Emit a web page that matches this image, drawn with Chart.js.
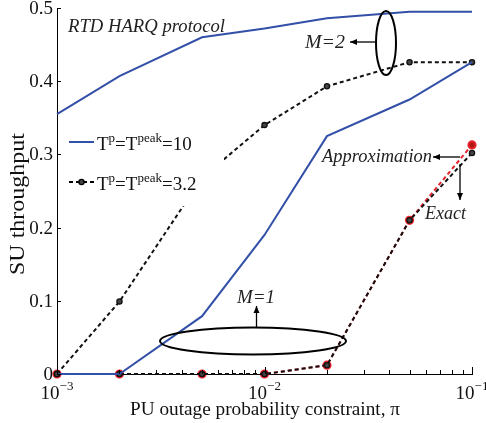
<!DOCTYPE html>
<html><head><meta charset="utf-8">
<script src="https://cdn.jsdelivr.net/npm/chart.js@4/dist/chart.umd.min.js"></script>
<style>html,body{margin:0;padding:0;background:#fff}#wrap{width:486px;height:423px}</style>
</head><body><div id="wrap"><canvas id="c" width="486" height="423"></canvas></div>
<script>
const outage = [0.001, 0.002, 0.005, 0.01, 0.02, 0.05, 0.1];
const m2_T10 = [0.355, 0.407, 0.46, 0.472, 0.486, 0.495, 0.495];
const m2_T32 = [0, 0.099, 0.268, 0.34, 0.393, 0.426, 0.426];
const m1_T10 = [0, 0, 0.079, 0.19, 0.325, 0.375, 0.426];
const m1_exact = [0, 0, 0, 0, 0.012, 0.21, 0.302];
const m1_approx = [0, 0, 0, 0, 0.012, 0.21, 0.313];
const yTicks = [0, 0.1, 0.2, 0.3, 0.4, 0.5];
const xTicks = [0.001, 0.01, 0.1];
const xTickExp = ['\u22123', '\u22122', '\u22121'];

const pts = arr => arr.map((v, i) => ({x: outage[i], y: v}));
const BLUE = '#3350a8', RED = '#e8232b';
const FONT = '"Liberation Serif", "DejaVu Serif", serif';

const deco = {
  id: 'deco',
  afterDatasetsDraw(chart) {
    const ctx = chart.ctx;
    // legend background box (hides part of the curve as in the original)
    ctx.save();
    ctx.fillStyle = '#fff';
    ctx.fillRect(59, 122, 165, 84);
    ctx.restore();
  },
  afterDraw(chart) {
    const ctx = chart.ctx, xs = chart.scales.x, ys = chart.scales.y, ca = chart.chartArea;
    const fit = (txt, x, y, width, size, italic, align) => {
      ctx.font = (italic ? 'italic ' : '') + size + 'px ' + FONT;
      const w = ctx.measureText(txt).width;
      const s = width / w;
      ctx.save();
      ctx.translate(x, y);
      ctx.scale(s, 1);
      ctx.textAlign = align || 'left';
      ctx.fillText(txt, 0, 0);
      ctx.restore();
    };
    ctx.save();
    ctx.strokeStyle = '#000'; ctx.lineWidth = 1;
    // y ticks (inward)
    ctx.fillStyle = '#111';
    ctx.font = '19px ' + FONT;
    ctx.textAlign = 'right'; ctx.textBaseline = 'middle';
    yTicks.forEach(v => {
      const y = Math.round(ys.getPixelForValue(v)) + 0.5;
      ctx.beginPath(); ctx.moveTo(ca.left, y); ctx.lineTo(ca.left + 4, y); ctx.stroke();
      ctx.fillText(String(v), ca.left - 4, y + 1);
    });
    // x ticks (inward), minor
    for (let e = -3; e <= -1; e++) {
      for (let m = 1; m <= 9; m++) {
        const v = m * Math.pow(10, e);
        if (v > 0.1 + 1e-12) break;
        const x = Math.round(xs.getPixelForValue(v)) + 0.5;
        const len = m === 1 ? 7 : 4;
        ctx.beginPath(); ctx.moveTo(x, ca.bottom); ctx.lineTo(x, ca.bottom - len); ctx.stroke();
      }
    }
    // x tick labels 10^k
    ctx.textBaseline = 'alphabetic';
    xTicks.forEach((v, i) => {
      const x = xs.getPixelForValue(v);
      ctx.font = '19px ' + FONT;
      const w1 = ctx.measureText('10').width;
      ctx.font = '13px ' + FONT;
      const w2 = ctx.measureText(xTickExp[i]).width;
      const x0 = x - (w1 + w2) / 2;
      ctx.textAlign = 'left';
      ctx.font = '19px ' + FONT;
      ctx.fillText('10', x0, ca.bottom + 25);
      ctx.font = '13px ' + FONT;
      ctx.fillText(xTickExp[i], x0 + w1, ca.bottom + 16);
    });
    // axis titles
    ctx.textBaseline = 'alphabetic';
    fit('PU outage probability constraint, \u03c0', 265, 415, 270, 19, false, 'center');
    ctx.save();
    ctx.translate(24, 204); ctx.rotate(-Math.PI / 2);
    fit('SU throughput', 0, 0, 142, 21, false, 'center');
    ctx.restore();

    // annotation texts
    ctx.fillStyle = '#222';
    ctx.textBaseline = 'middle';
    fit('RTD HARQ protocol', 68, 27, 157, 18, true);
    fit('M=2', 305, 43, 40, 18, true);
    fit('Approximation', 322, 157, 110, 18, true);
    fit('Exact', 425, 214, 41, 18, true);
    fit('M=1', 237, 298, 38, 18, true);

    // ellipses
    ctx.strokeStyle = '#000'; ctx.lineWidth = 2;
    ctx.beginPath(); ctx.ellipse(386, 43, 10, 32, 0, 0, Math.PI * 2); ctx.stroke();
    ctx.beginPath(); ctx.ellipse(253, 341, 93, 13.5, 0, 0, Math.PI * 2); ctx.stroke();

    // arrows
    const arrow = (x1, y1, x2, y2) => {
      ctx.lineWidth = 1.3;
      ctx.beginPath(); ctx.moveTo(x1, y1); ctx.lineTo(x2, y2); ctx.stroke();
      const a = Math.atan2(y2 - y1, x2 - x1), L = 7, W = 3;
      ctx.beginPath();
      ctx.moveTo(x2, y2);
      ctx.lineTo(x2 - L * Math.cos(a) + W * Math.sin(a), y2 - L * Math.sin(a) - W * Math.cos(a));
      ctx.lineTo(x2 - L * Math.cos(a) - W * Math.sin(a), y2 - L * Math.sin(a) + W * Math.cos(a));
      ctx.closePath(); ctx.fillStyle = '#000'; ctx.fill();
    };
    arrow(376, 42, 350, 42);
    arrow(460, 157, 433, 157);
    arrow(460, 164, 460, 200);
    arrow(256.5, 328, 256.5, 306);

    // legend
    ctx.lineWidth = 2;
    ctx.strokeStyle = BLUE;
    ctx.beginPath(); ctx.moveTo(69, 142); ctx.lineTo(94, 142); ctx.stroke();
    ctx.strokeStyle = '#000'; ctx.setLineDash([4, 3]);
    ctx.beginPath(); ctx.moveTo(69, 182); ctx.lineTo(94, 182); ctx.stroke();
    ctx.setLineDash([]);
    ctx.beginPath(); ctx.arc(81.5, 182, 2.6, 0, Math.PI * 2);
    ctx.fillStyle = '#444'; ctx.fill(); ctx.lineWidth = 1.3; ctx.stroke();
    const legText = (x, y, val) => {
      ctx.fillStyle = '#111';
      ctx.textAlign = 'left'; ctx.textBaseline = 'alphabetic';
      const parts = [['T', 19, 0], ['p', 13, -8], ['=T', 19, 0], ['peak', 13, -8], ['=' + val, 19, 0]];
      let cx = x;
      parts.forEach(p => {
        ctx.font = p[1] + 'px ' + FONT;
        ctx.fillText(p[0], cx, y + p[2]);
        cx += ctx.measureText(p[0]).width;
      });
    };
    legText(97, 150, '10');
    legText(97, 190, '3.2');
    ctx.restore();
  }
};

new Chart(document.getElementById('c'), {
  type: 'line',
  data: {
    datasets: [
      {data: pts(m2_T10), borderColor: BLUE, borderWidth: 2, pointRadius: 0, tension: 0},
      {data: pts(m1_T10), borderColor: BLUE, borderWidth: 2, pointRadius: 0, tension: 0},
      {data: pts(m2_T32), borderColor: '#111', borderWidth: 2, borderDash: [4, 3], pointRadius: 2.6,
        pointBackgroundColor: '#444', pointBorderColor: '#111', pointBorderWidth: 1.3, tension: 0},
      {data: pts(m1_exact), borderColor: '#111', borderWidth: 2, borderDash: [4, 3], pointRadius: 2.6,
        pointBackgroundColor: '#444', pointBorderColor: '#111', pointBorderWidth: 1.3, tension: 0},
      {data: pts(m1_approx), borderColor: RED, borderWidth: 2, borderDash: [4, 3], pointRadius: 3.6,
        pointBackgroundColor: '#b01515', pointBorderColor: RED, pointBorderWidth: 2, tension: 0}
    ]
  },
  options: {
    responsive: false, animation: false,
    clip: false,
    layout: {padding: {left: 57, right: 14, top: 8, bottom: 49}},
    plugins: {legend: {display: false}, tooltip: {enabled: false}},
    scales: {
      x: {type: 'logarithmic', min: 0.001, max: 0.1,
        grid: {display: false, drawTicks: false}, ticks: {display: false},
        border: {display: true, color: '#000', width: 1},
        afterFit: s => { s.height = 0; }},
      y: {type: 'linear', min: 0, max: 0.5,
        grid: {display: false, drawTicks: false}, ticks: {display: false},
        border: {display: true, color: '#000', width: 1},
        afterFit: s => { s.width = 0; }}
    }
  },
  plugins: [deco]
});
</script></body></html>
